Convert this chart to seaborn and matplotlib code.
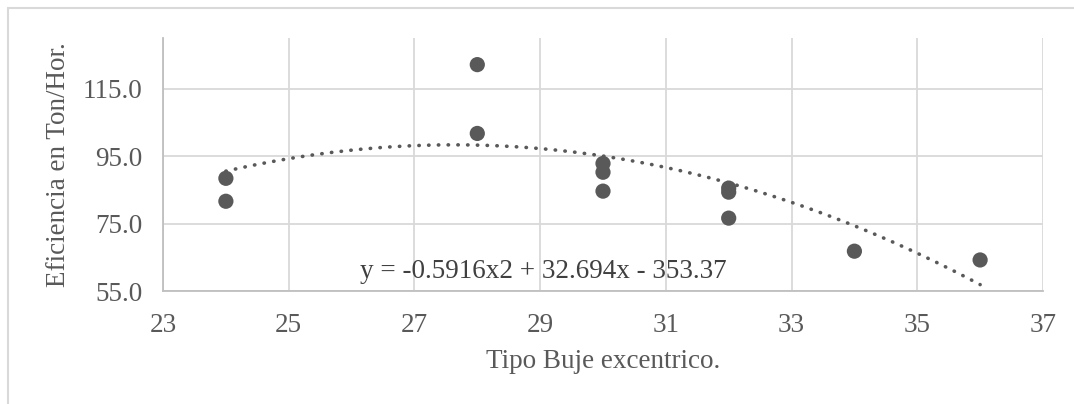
import numpy as np
import pandas as pd
import seaborn as sns
from matplotlib import pyplot as plt
from matplotlib.patches import Rectangle

# Data
buje = [24, 24, 28, 28, 30, 30, 30, 32, 32, 32, 34, 36]
eficiencia = [88.4, 81.6, 122.1, 101.7, 92.8, 90.2, 84.6, 85.5, 84.3, 76.6, 66.8, 64.2]

# Polynomial trendline coefficients shown on the chart (a*x^2 + b*x + c)
trend_coefs = [-0.5916, 32.694, -353.37]
trend_label = "y = -0.5916x2 + 32.694x - 353.37"

x_ticks = [23, 25, 27, 29, 31, 33, 35, 37]
y_ticks = [55, 75, 95, 115]

df = pd.DataFrame({"buje": buje, "eficiencia": eficiencia})

trend_x = np.linspace(min(buje), max(buje), 200)
trend_df = pd.DataFrame({"buje": trend_x, "eficiencia": np.polyval(trend_coefs, trend_x)})

sns.set_style("white")
plt.rcParams['font.family'] = ['Liberation Serif', 'DejaVu Serif']
fsize = 19.5

fig = plt.figure(figsize=(10.74, 4.04), dpi=100)
ax = fig.add_axes([0.1518, 0.2797, 0.8193, 0.6263])

# outer chart frame
fig.patches.append(Rectangle((8 / 1074, -0.01), 1.02, 1 - 8 / 404 + 0.01, transform=fig.transFigure,
                             fill=False, edgecolor='#d9d9d9', linewidth=1.5))

sns.lineplot(data=trend_df, x="buje", y="eficiencia", ax=ax, color='#595959',
             linestyle=(0, (0.1, 2.6)), linewidth=2.6, dash_capstyle='round', zorder=2)
sns.scatterplot(data=df, x="buje", y="eficiencia", ax=ax, color='#595959', s=120,
                edgecolor='none', zorder=3)

ax.set_xlim(23, 37)
ax.set_ylim(55, 130)
ax.set_xticks(x_ticks)
ax.set_yticks(y_ticks)
ax.set_yticklabels([f"{v:.1f}" for v in y_ticks])
ax.grid(True, color='#d9d9d9', linewidth=1.3)
ax.tick_params(axis='both', length=0, labelsize=fsize, labelcolor='#595959')
ax.tick_params(axis='y', pad=15)
ax.tick_params(axis='x', pad=16)

for side in ['top', 'right']:
    ax.spines[side].set_visible(False)
for side in ['left', 'bottom']:
    ax.spines[side].set_color('#bfbfbf')
    ax.spines[side].set_linewidth(1.3)

ax.set_xlabel("Tipo Buje excentrico.", fontsize=fsize, color='#595959', labelpad=8)
ax.set_ylabel("Eficiencia en Ton/Hor.", fontsize=fsize, color='#595959', labelpad=8)

ax.text(26.14, 60.8, trend_label, fontsize=fsize, color='#404040', ha='left', va='center')

fig.savefig("out.png", dpi=100)
